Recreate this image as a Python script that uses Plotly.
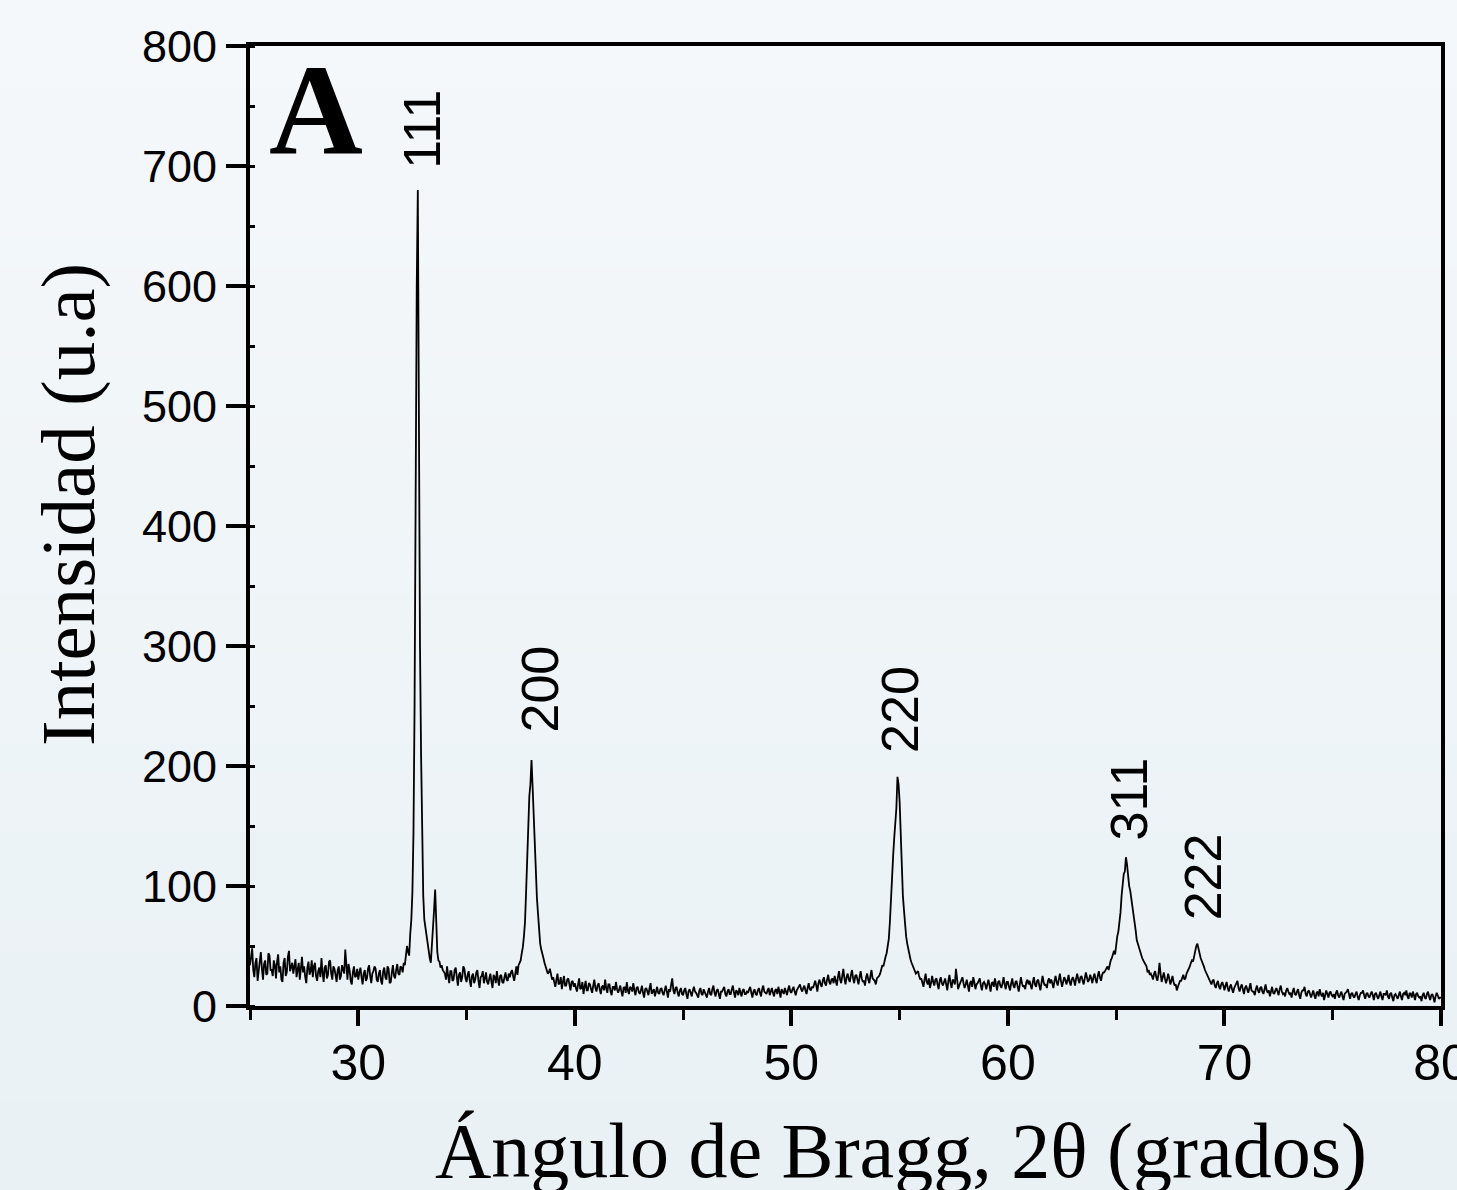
import numpy as np
import plotly.graph_objects as go

# ---------------- data ----------------
# intensities at 25.0, 25.1, ..., 80.0 degrees 2theta
grid_start = 25.0
grid_step = 0.1
grid_intensity = [
    34, 48, 24, 40, 29, 45, 22, 38, 27, 42,   # 25
    30, 38, 23, 43, 33, 20, 40, 28, 46, 32,   # 26
    27, 39, 30, 22, 41, 33, 19, 37, 29, 24,   # 27
    36, 21, 32, 40, 20, 34, 26, 38, 22, 31,   # 28
    20, 33, 25, 31, 47, 22, 30, 18, 33, 25,   # 29
    22, 32, 18, 30, 23, 34, 19, 29, 31, 20,   # 30
    30, 18, 32, 22, 31, 20, 34, 23, 35, 26,   # 31
    32, 36, 40, 45, 60, 95, 250, 600, 470, 210,  # 32
    92, 65, 50, 40, 48, 80, 60, 38, 32, 30,   # 33
    27, 33, 19, 29, 22, 32, 17, 28, 24, 31,   # 34
    20, 29, 16, 27, 22, 30, 15, 25, 19, 28,   # 35
    18, 27, 15, 24, 29, 17, 26, 19, 28, 21,   # 36
    24, 30, 21, 33, 34, 38, 49, 70, 120, 175,  # 37
    205, 160, 105, 77, 52, 42, 36, 30, 28, 25,  # 38
    24, 16, 27, 19, 14, 25, 17, 23, 13, 21,   # 39
    19, 12, 23, 15, 10, 21, 13, 18, 11, 22,   # 40
    12, 19, 10, 17, 22, 11, 18, 9, 16, 20,    # 41
    11, 17, 8, 16, 20, 10, 15, 19, 9, 16,     # 42
    10, 17, 7, 15, 9, 19, 12, 8, 16, 10,      # 43
    15, 9, 17, 7, 12, 23, 10, 16, 8, 15,      # 44
    9, 15, 6, 14, 8, 16, 11, 7, 15, 9,        # 45
    11, 7, 15, 9, 17, 8, 14, 6, 12, 16,       # 46
    8, 14, 10, 17, 7, 12, 15, 8, 14, 10,      # 47
    11, 16, 7, 14, 9, 15, 8, 17, 11, 13,      # 48
    9, 15, 8, 14, 16, 7, 12, 15, 9, 17,       # 49
    11, 16, 9, 15, 18, 12, 17, 10, 19, 13,    # 50
    15, 21, 12, 22, 16, 24, 17, 26, 18, 23,   # 51
    25, 17, 29, 19, 31, 18, 27, 20, 30, 19,   # 52
    26, 18, 29, 20, 17, 27, 19, 30, 22, 18,   # 53
    24, 27, 34, 38, 44, 56, 92, 125, 155, 191,  # 54
    170, 105, 80, 58, 47, 39, 34, 30, 28, 25,  # 55
    23, 16, 27, 18, 15, 25, 17, 23, 14, 24,   # 56
    17, 23, 13, 26, 15, 21, 31, 14, 20, 24,   # 57
    15, 22, 12, 21, 24, 14, 19, 23, 13, 20,   # 58
    14, 22, 12, 20, 23, 13, 21, 15, 24, 14,   # 59
    20, 13, 23, 15, 21, 12, 24, 16, 14, 22,   # 60
    21, 14, 24, 16, 22, 13, 25, 17, 15, 23,   # 61
    22, 15, 25, 17, 27, 16, 24, 18, 26, 17,   # 62
    24, 17, 27, 19, 25, 18, 28, 20, 26, 19,   # 63
    27, 19, 29, 21, 28, 30, 33, 36, 40, 46,   # 64
    52, 62, 78, 105, 112, 118, 100, 90, 75, 63,  # 65
    52, 44, 40, 36, 33, 30, 27, 22, 29, 21,   # 66
    36, 20, 28, 19, 27, 18, 25, 17, 13, 19,   # 67
    21, 26, 23, 29, 33, 38, 42, 50, 46, 40,   # 68
    36, 30, 25, 22, 18, 22, 15, 21, 14, 20,   # 69
    13, 20, 12, 18, 11, 17, 21, 12, 18, 10,   # 70
    17, 11, 19, 12, 9, 17, 11, 16, 10, 18,    # 71
    11, 8, 16, 10, 15, 9, 17, 10, 8, 15,      # 72
    10, 7, 15, 9, 14, 6, 13, 16, 8, 13,       # 73
    7, 13, 6, 12, 14, 8, 5, 13, 7, 12,        # 74
    8, 6, 13, 7, 12, 5, 11, 14, 6, 11,        # 75
    7, 12, 5, 11, 13, 6, 11, 7, 12, 5,        # 76
    11, 6, 12, 5, 10, 13, 6, 11, 4, 10,       # 77
    6, 12, 5, 11, 13, 6, 10, 12, 5, 11,       # 78
    7, 4, 11, 6, 12, 5, 10, 3, 11, 6,         # 79
    7,                                        # 80
]

# intensities at 25.05, 25.15, ..., 79.95 degrees 2theta
half_start = 25.05
half_intensity = [
    42, 30, 36, 21, 39, 31, 35, 26, 44, 30,   # 25
    25, 34, 37, 28, 22, 36, 25, 41, 29, 36,   # 26
    35, 24, 36, 31, 28, 24, 32, 26, 38, 33,   # 27
    25, 29, 24, 28, 32, 23, 37, 27, 33, 26,   # 28
    30, 22, 34, 27, 29, 35, 21, 28, 24, 31,   # 29
    28, 24, 27, 21, 31, 25, 27, 33, 22, 27,   # 30
    21, 29, 24, 33, 19, 28, 25, 30, 27, 33,   # 31
    28, 34, 50, 42, 72, 145, 460, 680, 300, 145,  # 32
    72, 58, 44, 36, 62, 97, 45, 37, 34, 28,   # 33
    22, 25, 29, 21, 30, 24, 26, 20, 33, 23,   # 34
    26, 21, 25, 19, 28, 21, 24, 29, 23, 20,   # 35
    23, 20, 26, 19, 22, 25, 20, 24, 22, 27,   # 36
    28, 25, 27, 26, 36, 44, 58, 95, 158, 185,  # 37
    183, 130, 90, 62, 47, 40, 32, 27, 31, 22,  # 38
    19, 22, 18, 24, 20, 17, 22, 18, 20, 16,   # 39
    15, 18, 14, 20, 16, 13, 19, 14, 17, 15,   # 40
    17, 14, 16, 13, 15, 18, 12, 16, 13, 14,   # 41
    14, 12, 15, 11, 13, 16, 12, 13, 15, 12,   # 42
    13, 11, 14, 12, 15, 10, 14, 13, 11, 14,   # 43
    11, 13, 12, 14, 18, 13, 15, 11, 13, 10,   # 44
    13, 10, 12, 11, 13, 12, 9, 13, 10, 14,    # 45
    9, 12, 10, 14, 11, 13, 10, 12, 14, 10,    # 46
    12, 10, 14, 11, 13, 9, 11, 13, 10, 12,    # 47
    14, 11, 12, 10, 13, 11, 14, 12, 10, 15,   # 48
    12, 11, 13, 10, 12, 14, 10, 11, 14, 12,   # 49
    14, 12, 13, 16, 14, 15, 13, 15, 14, 16,   # 50
    18, 17, 19, 18, 21, 19, 22, 20, 22, 19,   # 51
    21, 24, 22, 25, 23, 24, 22, 26, 23, 25,   # 52
    22, 24, 23, 21, 24, 22, 25, 23, 21, 23,   # 53
    25, 30, 33, 41, 50, 70, 112, 140, 165, 185,  # 54
    140, 92, 66, 52, 42, 36, 31, 27, 29, 22,  # 55
    19, 22, 20, 23, 19, 20, 22, 18, 21, 19,   # 56
    20, 18, 21, 19, 22, 18, 23, 17, 22, 19,   # 57
    18, 17, 19, 16, 20, 18, 21, 17, 19, 18,   # 58
    18, 17, 19, 16, 18, 20, 17, 19, 18, 20,   # 59
    16, 19, 17, 20, 16, 18, 19, 17, 20, 18,   # 60
    17, 20, 18, 21, 17, 19, 20, 18, 21, 19,   # 61
    19, 21, 20, 22, 21, 20, 22, 21, 20, 22,   # 62
    21, 23, 22, 24, 21, 23, 24, 22, 23, 24,   # 63
    22, 25, 24, 26, 28, 31, 30, 38, 44, 43,   # 64
    58, 70, 92, 110, 124, 108, 96, 80, 70, 55,  # 65
    48, 41, 38, 35, 28, 26, 25, 27, 24, 26,   # 66
    27, 24, 23, 22, 23, 21, 20, 18, 16, 21,   # 67
    24, 22, 27, 30, 36, 37, 47, 52, 44, 38,   # 68
    33, 28, 23, 20, 21, 17, 19, 16, 18, 17,   # 69
    17, 15, 16, 14, 15, 18, 15, 16, 14, 15,   # 70
    14, 15, 13, 12, 14, 13, 15, 12, 14, 13,   # 71
    13, 12, 11, 13, 12, 14, 12, 11, 13, 12,   # 72
    11, 12, 10, 12, 9, 11, 13, 10, 12, 10,    # 73
    10, 9, 11, 8, 10, 11, 9, 10, 11, 9,       # 74
    10, 11, 9, 10, 8, 10, 12, 9, 10, 8,       # 75
    10, 8, 9, 11, 9, 10, 8, 10, 9, 10,        # 76
    8, 9, 8, 10, 9, 8, 10, 7, 9, 8,           # 77
    9, 8, 10, 9, 8, 11, 7, 9, 10, 8,          # 78
    8, 9, 7, 10, 8, 9, 7, 8, 9, 7,            # 79
]

hkl_labels = ["111", "200", "220", "311", "222"]
label_angle = [32.96, 38.40, 54.98, 65.60, 69.00]
label_bottom = [696, 226, 209, 136, 70]

x_range = [25, 80]
y_range = [0, 800]
x_ticks = [30, 40, 50, 60, 70, 80]
y_ticks = [0, 100, 200, 300, 400, 500, 600, 700, 800]

# ---------------- assemble ----------------
grid_angle = np.round(grid_start + grid_step * np.arange(len(grid_intensity)), 2)
half_angle = np.round(half_start + grid_step * np.arange(len(half_intensity)), 2)
angle = np.concatenate([grid_angle, half_angle])
inten = np.concatenate([np.array(grid_intensity, float), np.array(half_intensity, float)])
order = np.argsort(angle)
angle = angle[order]
inten = inten[order]

fig = go.Figure()
fig.add_trace(go.Scatter(
    x=angle, y=inten, mode="lines",
    line=dict(color="#000000", width=1.8),
    showlegend=False, hoverinfo="skip",
))

# background gradient bands
W, H = 1457, 1190
ml, mr, mt, mb = 250, 16, 46, 184
pw, ph = W - ml - mr, H - mt - mb
top_c = np.array([245, 248, 250])
bot_c = np.array([233, 241, 245])
nb = 40
shapes = []
for i in range(nb):
    y0px = H * i / nb
    y1px = H * (i + 1) / nb
    t = (i + 0.5) / nb
    c = top_c * (1 - t) + bot_c * t
    shapes.append(dict(
        type="rect", xref="paper", yref="paper", layer="below",
        x0=-ml / pw - 0.01, x1=1 + mr / pw + 0.01,
        y0=(H - mb - y1px) / ph - 0.001, y1=(H - mb - y0px) / ph + 0.001,
        fillcolor="rgb(%d,%d,%d)" % tuple(c.round()), line=dict(width=0),
    ))

annotations = []
for lab, xa, yb in zip(hkl_labels, label_angle, label_bottom):
    annotations.append(dict(
        x=xa, y=yb, xref="x", yref="y", text=lab, showarrow=False,
        textangle=-90, xanchor="center", yanchor="bottom",
        font=dict(family="Liberation Sans, Arial", size=52, color="black"),
    ))

annotations.append(dict(
    x=(267 - ml) / pw, y=(H - mb - 109) / ph, xref="paper", yref="paper",
    text="<b>A</b>", showarrow=False, xanchor="left", yanchor="middle",
    font=dict(family="Liberation Serif, Times New Roman", size=130, color="black"),
))
annotations.append(dict(
    x=(901 - ml) / pw, y=(H - mb - 1150) / ph, xref="paper", yref="paper",
    text="Ángulo de Bragg, 2θ (grados)", showarrow=False,
    xanchor="center", yanchor="middle",
    font=dict(family="Liberation Serif, Times New Roman", size=78, color="black"),
))
annotations.append(dict(
    x=(68 - ml) / pw, y=(H - mb - 505) / ph, xref="paper", yref="paper",
    text="Intensidad (u.a)", showarrow=False, textangle=-90,
    xanchor="center", yanchor="middle",
    font=dict(family="Liberation Serif, Times New Roman", size=77, color="black"),
))

fig.update_layout(
    template="none",
    width=W, height=H,
    margin=dict(l=ml, r=mr, t=mt, b=mb, pad=0),
    paper_bgcolor="rgb(240,245,248)",
    plot_bgcolor="rgba(0,0,0,0)",
    shapes=shapes,
    annotations=annotations,
    showlegend=False,
)
fig.update_xaxes(
    range=x_range, tickvals=x_ticks, ticktext=[str(v) for v in x_ticks],
    showgrid=False, zeroline=False, automargin=False,
    showline=True, linecolor="black", linewidth=4, mirror=True,
    ticks="outside", ticklen=16, tickwidth=4, tickcolor="black",
    ticklabeloverflow="allow", ticklabelstandoff=-6,
    tickfont=dict(family="Liberation Sans, Arial", size=50, color="black"),
    minor=dict(ticks="outside", ticklen=10, tickwidth=3, tickcolor="black",
               tick0=25, dtick=5, showgrid=False),
)
fig.update_yaxes(
    range=y_range, tickvals=y_ticks, ticktext=[str(v) for v in y_ticks],
    showgrid=False, zeroline=False, automargin=False,
    showline=True, linecolor="black", linewidth=4, mirror=True,
    ticks="outside", ticklen=20, tickwidth=4, tickcolor="black",
    ticklabeloverflow="allow",
    tickfont=dict(family="Liberation Sans, Arial", size=45, color="black"),
    minor=dict(ticks="inside", ticklen=5, tickwidth=3, tickcolor="black",
               tick0=0, dtick=50, showgrid=False),
)

fig.write_html("out.html")
